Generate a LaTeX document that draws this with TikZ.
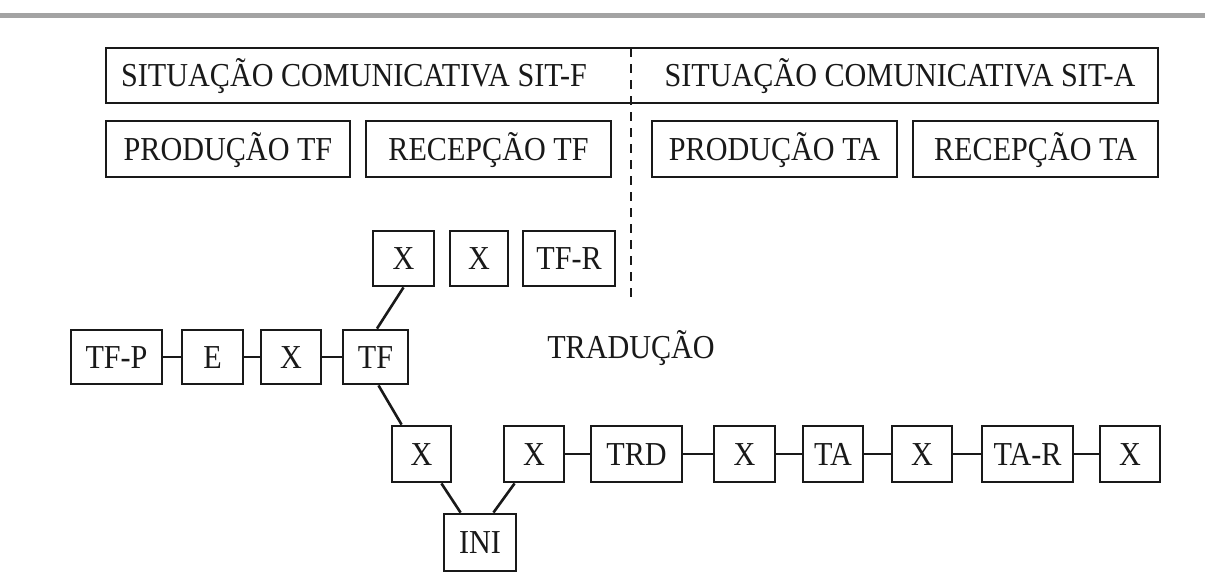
\documentclass[tikz,border=0pt]{standalone}
\usepackage{fontspec}
\setmainfont{Liberation Serif}[FakeStretch=0.9]
\usetikzlibrary{calc}
\definecolor{rulegray}{RGB}{163,163,163}
\definecolor{ink}{RGB}{25,25,25}
\tikzset{
  lbl/.style={font=\fontsize{33.5}{40}\selectfont, text=ink, text height=22.3pt, text depth=0pt, inner sep=0pt},
  tbox/.style={lbl, draw=ink, line width=2.8pt, minimum width=#1, minimum height=55pt},
  link/.style={draw=ink, line width=2.6pt},
  divider/.style={draw=ink, line width=2.4pt, dash pattern=on 9pt off 7pt}
}
\begin{document}
\begin{tikzpicture}[x=1pt,y=-1pt]
\useasboundingbox (0,0) rectangle (1205,587);
% rule along the top edge
\fill[rulegray] (0,13) rectangle (1205,17.5);

% communicative situations
\node[tbox=1052pt] (sit) at (632,75.5) {};
\node[lbl] (sitf) at (354,75.5) {SITUAÇÃO COMUNICATIVA SIT-F};
\node[lbl] (sita) at (900,75.5) {SITUAÇÃO COMUNICATIVA SIT-A};
\coordinate (divtop) at (631,48);
\coordinate (divbot) at (631,297);
\draw[divider] (divtop) -- (divbot);

% production / reception
\node[tbox=244pt, minimum height=56pt] (ptf) at (228,149) {PRODUÇÃO TF};
\node[tbox=245pt, minimum height=56pt] (rtf) at (488.5,149) {RECEPÇÃO TF};
\node[tbox=245pt, minimum height=56pt] (pta) at (774.5,149) {PRODUÇÃO TA};
\node[tbox=245pt, minimum height=56pt] (rta) at (1035.5,149) {RECEPÇÃO TA};

% reception of the source text
\node[tbox=61pt] (xr1) at (403.5,258.5) {X};
\node[tbox=58pt] (xr2) at (479,258.5) {X};
\node[tbox=92pt] (tfr) at (569,258.5) {TF-R};

% production of the source text
\node[tbox=91pt, minimum height=54pt] (tfp) at (116.5,357) {TF-P};
\node[tbox=61pt, minimum height=54pt] (e)   at (212.5,357) {E};
\node[tbox=60pt, minimum height=54pt] (xp)  at (291,357) {X};
\node[tbox=65pt, minimum height=54pt] (tf)  at (375.5,357) {TF};

\node[lbl] (trad) at (631,347) {TRADUÇÃO};

% translation chain
\node[tbox=59pt, minimum height=56pt] (xa)  at (421.5,454) {X};
\node[tbox=60pt, minimum height=56pt] (xb)  at (534,454) {X};
\node[tbox=91pt, minimum height=56pt] (trd) at (636.5,454) {TRD};
\node[tbox=61pt, minimum height=56pt] (xc)  at (744.5,454) {X};
\node[tbox=60pt, minimum height=56pt] (ta)  at (833,454) {TA};
\node[tbox=60pt, minimum height=56pt] (xd)  at (922,454) {X};
\node[tbox=91pt, minimum height=56pt] (tar) at (1027.5,454) {TA-R};
\node[tbox=60pt, minimum height=56pt] (xe)  at (1130,454) {X};
\node[tbox=72pt, minimum height=57pt] (ini) at (480,542.5) {INI};

% connectors
\draw[link] (tfp) -- (e);
\draw[link] (e) -- (xp);
\draw[link] (xp) -- (tf);
\draw[link] (xr1.south) -- ($(tf.north)+(1.5,0)$);
\draw[link] ($(tf.south)+(3,0)$) -- ($(xa.north west)+(11,0)$);
\draw[link] ($(xa.south east)+(-11,0)$) -- ($(ini.north west)+(18,0)$);
\draw[link] ($(xb.south west)+(12,0)$) -- ($(ini.north east)+(-24,0)$);
\draw[link] (xb) -- (trd);
\draw[link] (trd) -- (xc);
\draw[link] (xc) -- (ta);
\draw[link] (ta) -- (xd);
\draw[link] (xd) -- (tar);
\draw[link] (tar) -- (xe);
\end{tikzpicture}
\end{document}
